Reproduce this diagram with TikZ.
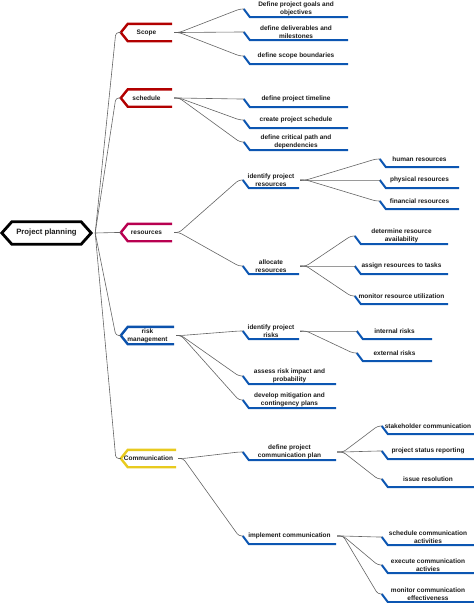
\documentclass[tikz,border=0pt]{standalone}
\usepackage{fontspec}
\setmainfont{Liberation Sans}
\definecolor{scopered}{RGB}{178,0,0}
\definecolor{resred}{RGB}{184,0,80}
\definecolor{riskblue}{RGB}{12,82,172}
\definecolor{commyellow}{RGB}{232,202,30}
\definecolor{leafblue}{RGB}{12,86,178}
\definecolor{conngray}{RGB}{100,100,100}
\definecolor{textdark}{RGB}{28,28,28}
\begin{document}
\begin{tikzpicture}
  [x=1pt,y=-1pt,
   every node/.style={font=\fontsize{6.5}{8}\selectfont\bfseries,text=textdark,align=center,inner sep=0pt},
   branch/.style={minimum width=#1,minimum height=17pt},
   leaf/.style={minimum width=#1},
   conn/.style={draw=conngray,line width=.6pt,rounded corners=3pt},
   leafline/.style={draw=leafblue,line width=2pt}]
  \useasboundingbox (0,0) rectangle (474,603);

  \node[minimum width=89pt,minimum height=22pt,font=\fontsize{7.7}{9}\selectfont\bfseries] (root) at (46.5,233) {Project planning};

  \node[branch=51pt] (scope) at (146.5,32.5) {Scope};
  \node[branch=51pt] (sched) at (146.5,98) {schedule};
  \node[branch=51pt] (res) at (146.5,232.5) {resources};
  \node[branch=53pt] (risk) at (147.5,335.5) {risk\\management};
  \node[branch=55pt] (comm) at (148.5,458.5) {Communication};

  \node[leaf=104pt] (g1) at (296,9) {Define project goals and\\objectives};
  \node[leaf=104pt] (g2) at (296,32) {define deliverables and\\milestones};
  \node[leaf=104pt] (g3) at (296,56) {define scope boundaries};
  \node[leaf=104pt] (t1) at (296,99) {define project timeline};
  \node[leaf=104pt] (t2) at (296,120) {create project schedule};
  \node[leaf=104pt] (t3) at (296,142) {define critical path and\\dependencies};

  \node[leaf=56pt] (r1) at (271,180) {identify project\\resources};
  \node[leaf=56pt] (r2) at (271,266) {allocate\\resources};
  \node[leaf=79pt] (h1) at (419.5,159) {human resources};
  \node[leaf=79pt] (h2) at (419.5,180) {physical resources};
  \node[leaf=79pt] (h3) at (419.5,201) {financial resources};
  \node[leaf=93pt] (a1) at (401.5,236) {determine resource\\availability};
  \node[leaf=93pt] (a2) at (401.5,266) {assign resources to tasks};
  \node[leaf=93pt] (a3) at (401.5,296) {monitor resource utilization};

  \node[leaf=56pt] (k1) at (271,331) {identify project\\risks};
  \node[leaf=75pt] (k2) at (394.5,331) {internal risks};
  \node[leaf=75pt] (k3) at (394.5,353) {external risks};
  \node[leaf=93pt] (k4) at (289.5,376) {assess risk impact and\\probability};
  \node[leaf=93pt] (k5) at (289.5,400) {develop mitigation and\\contingency plans};

  \node[leaf=93pt] (c1) at (289.5,452) {define project\\communication plan};
  \node[leaf=93pt] (c2) at (289.5,536) {implement communication};
  \node[leaf=92pt] (s1) at (428,426) {stakeholder communication};
  \node[leaf=92pt] (s2) at (428,451) {project status reporting};
  \node[leaf=92pt] (s3) at (428,479) {issue resolution};
  \node[leaf=92pt] (e1) at (428,537) {schedule communication\\activities};
  \node[leaf=92pt] (e2) at (428,565) {execute communication\\activies};
  \node[leaf=92pt] (e3) at (428,594) {monitor communication\\effectiveness};

  % outlines
  \draw[line width=2.8pt] (root.west) -- ([xshift=10pt]root.north west) -- ([xshift=-10pt]root.north east)
    -- (root.east) -- ([xshift=-10pt]root.south east) -- ([xshift=10pt]root.south west) -- cycle;
  \foreach \n/\c in {scope/scopered,sched/scopered,res/resred,risk/riskblue,comm/commyellow}
    \draw[\c,line width=2.4pt] (\n.north east) -- ([xshift=7pt]\n.north west) -- (\n.west)
      -- ([xshift=7pt]\n.south west) -- (\n.south east);
  \foreach \n in {g1,g2,g3,t1,t2,t3,r1,r2,h1,h2,h3,a1,a2,a3,k1,k2,k3,k4,k5,c1,c2,s1,s2,s3,e1,e2,e3}
    \draw[leafline] (\n.west) -- ([xshift=6pt,yshift=-8pt]\n.west) -- ([yshift=-8pt]\n.east);

  % connectors
  \foreach \to in {scope,sched,res,risk,comm}
    \draw[conn] ([xshift=4pt]root.east) -- ([xshift=-5pt]\to.west) -- (\to.west);
  \foreach \from/\to in {scope/g1,scope/g2,scope/g3,sched/t1,sched/t2,sched/t3,res/r1,res/r2,risk/k1,risk/k4,risk/k5,comm/c1,comm/c2}
    \draw[conn] ([xshift=2pt]\from.east) -- ++(5,0) -- ([xshift=-4pt]\to.west) -- (\to.west);
  \foreach \from/\to in {r1/h1,r1/h2,r1/h3,r2/a1,r2/a2,r2/a3,k1/k2,k1/k3,c1/s1,c1/s2,c1/s3,c2/e1,c2/e2,c2/e3}
    \draw[conn] ([xshift=1pt]\from.east) -- ++(6,0) -- ([xshift=-4pt]\to.west) -- (\to.west);
\end{tikzpicture}
\end{document}
